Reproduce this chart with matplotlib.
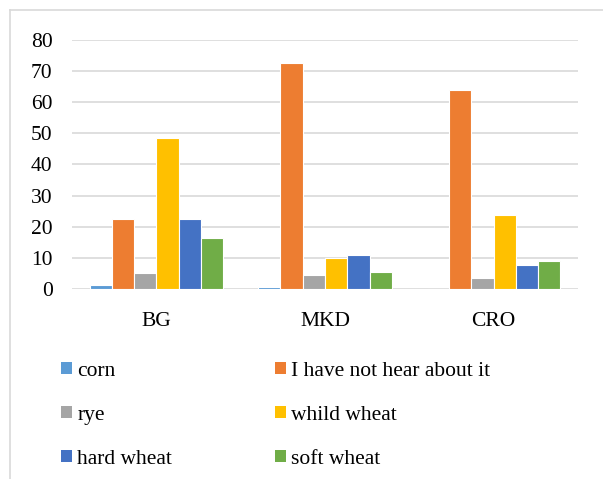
import matplotlib
matplotlib.use("Agg")
import matplotlib.pyplot as plt
import numpy as np
from matplotlib.patches import Patch
from matplotlib.lines import Line2D

categories = ["BG", "MKD", "CRO"]
series_names = ["corn", "I have not hear about it", "rye",
                "whild wheat", "hard wheat", "soft wheat"]
corn = [1.3, 0.8, 0.0]
not_heard = [22.5, 72.5, 63.7]
rye = [5.3, 4.6, 3.5]
whild_wheat = [48.5, 10.1, 23.7]
hard_wheat = [22.5, 11.0, 7.7]
soft_wheat = [16.3, 5.4, 9.1]
y_ticks = [0, 10, 20, 30, 40, 50, 60, 70, 80]

series = [corn, not_heard, rye, whild_wheat, hard_wheat, soft_wheat]
colors = ["#5b9bd5", "#ed7d31", "#a5a5a5", "#ffc000", "#4472c4", "#70ad47"]

plt.rcParams["font.family"] = ["Liberation Serif", "DejaVu Serif"]
FS = 15.5

fig = plt.figure(figsize=(6.03, 4.79), dpi=100)
ax = fig.add_axes([0.1194, 0.396, 0.8391, 0.5215])

x = np.arange(len(categories))
slot = 0.132
for i, (vals, col) in enumerate(zip(series, colors)):
    offs = (i - 2.5) * slot
    ax.bar(x + offs, vals, width=slot, color=col, edgecolor="white",
           linewidth=0.8, zorder=3)

ax.set_xlim(-0.5, len(categories) - 0.5)
ax.set_ylim(0, 80)
ax.set_yticks(y_ticks)
ax.set_xticks(x)
ax.set_xticklabels(categories)
ax.grid(axis="y", color="#d9d9d9", linewidth=1.2, zorder=0)
for s in ax.spines.values():
    s.set_visible(False)
ax.tick_params(axis="both", length=0, labelsize=FS, colors="black")
ax.tick_params(axis="y", pad=14)
ax.tick_params(axis="x", pad=16.5)

# outer chart-area border
fig.add_artist(Line2D([10 / 603, 10 / 603], [0, 1 - 10 / 479],
                      transform=fig.transFigure, color="#d9d9d9", lw=1.2))
fig.add_artist(Line2D([10 / 603, 1], [1 - 10 / 479, 1 - 10 / 479],
                      transform=fig.transFigure, color="#d9d9d9", lw=1.2))

handles = [Patch(facecolor=c, edgecolor="none") for c in colors]
leg_kw = dict(frameon=False, fontsize=FS, handlelength=0.5,
              handleheight=0.5, handletextpad=0.25, labelspacing=1.15,
              borderpad=0, borderaxespad=0, loc="upper left")
leg1 = fig.legend([handles[0], handles[2], handles[4]],
                  [series_names[0], series_names[2], series_names[4]],
                  bbox_to_anchor=(61 / 603, 1 - 362 / 479), **leg_kw)
leg2 = fig.legend([handles[1], handles[3], handles[5]],
                  [series_names[1], series_names[3], series_names[5]],
                  bbox_to_anchor=(275 / 603, 1 - 362 / 479), **leg_kw)

fig.savefig("out.png", dpi=100)
